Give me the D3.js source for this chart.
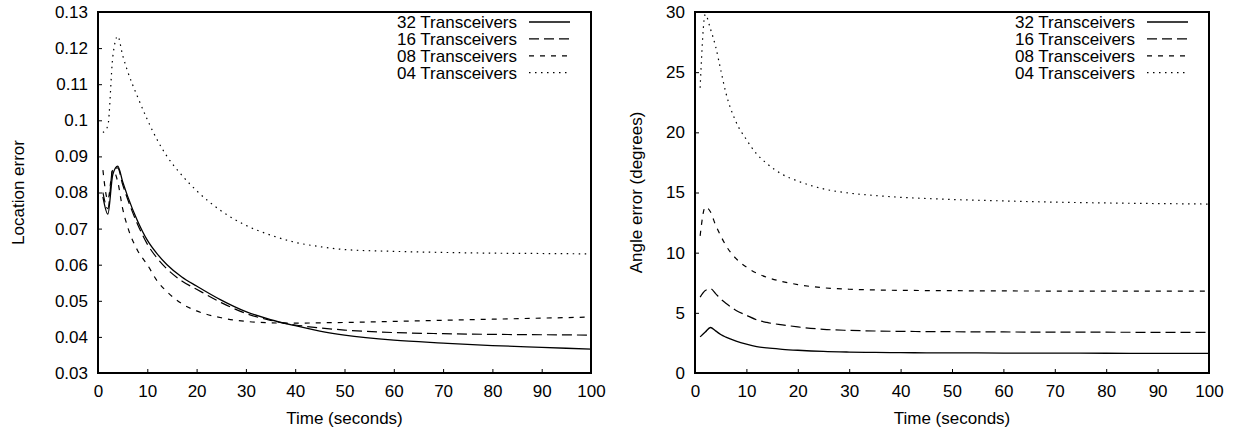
<!DOCTYPE html>
<html>
<head>
<meta charset="utf-8">
<script src="https://cdn.jsdelivr.net/npm/d3@7"></script>
<style>
    body { margin: 0; background: #fff; }
    text { font-family: "Liberation Sans", Arial, sans-serif; font-size: 17px; fill: #000; }
</style>
</head>
<body>
<svg width="1234" height="428"></svg>
<script>
// sample times (seconds)
var times = [1, 2, 3, 4, 5, 6, 8, 10, 12, 14, 17, 20, 25, 30, 35, 40, 45, 50, 60, 70, 80, 90, 100];
var seriesNames = ["32 Transceivers", "16 Transceivers", "08 Transceivers", "04 Transceivers"];

// location error
var loc32 = [0.0788, 0.0740, 0.0850, 0.0873, 0.0830, 0.0790, 0.0722, 0.0668, 0.0630, 0.0600, 0.0566, 0.0541, 0.0502, 0.0470, 0.0448, 0.0431, 0.0416, 0.0405, 0.0391, 0.0383, 0.0376, 0.0371, 0.0366];
var loc16 = [0.0800, 0.0755, 0.0865, 0.0868, 0.0822, 0.0782, 0.0713, 0.0657, 0.0618, 0.0588, 0.0555, 0.0532, 0.0495, 0.0465, 0.0446, 0.0433, 0.0425, 0.0419, 0.0412, 0.0409, 0.0407, 0.0406, 0.0405];
var loc08 = [0.0862, 0.0780, 0.0862, 0.0830, 0.0755, 0.0705, 0.0640, 0.0600, 0.0555, 0.0525, 0.0492, 0.0472, 0.0453, 0.0443, 0.0439, 0.0438, 0.0439, 0.0440, 0.0443, 0.0446, 0.0449, 0.0452, 0.0455];
var loc04 = [0.0966, 0.0985, 0.1176, 0.1233, 0.1180, 0.1136, 0.1066, 0.1002, 0.0946, 0.0900, 0.0848, 0.0805, 0.0749, 0.0709, 0.0682, 0.0662, 0.0650, 0.0642, 0.0637, 0.0634, 0.0632, 0.0631, 0.0630];

// angle error (degrees)
var ang32 = [3.0, 3.4, 3.78, 3.5, 3.2, 2.98, 2.65, 2.4, 2.2, 2.08, 1.97, 1.89, 1.79, 1.74, 1.71, 1.69, 1.68, 1.67, 1.66, 1.65, 1.64, 1.635, 1.63];
var ang16 = [6.3, 6.85, 7.0, 6.6, 6.15, 5.8, 5.2, 4.8, 4.42, 4.2, 4.0, 3.83, 3.63, 3.54, 3.49, 3.46, 3.44, 3.43, 3.41, 3.40, 3.39, 3.38, 3.37];
var ang08 = [11.4, 13.8, 13.4, 12.3, 11.4, 10.6, 9.5, 8.8, 8.3, 7.95, 7.6, 7.35, 7.08, 6.96, 6.9, 6.87, 6.85, 6.84, 6.82, 6.81, 6.80, 6.80, 6.80];
var ang04 = [23.7, 29.8, 28.6, 27.15, 25.2, 23.3, 20.85, 19.4, 18.2, 17.4, 16.5, 15.95, 15.3, 14.95, 14.75, 14.6, 14.5, 14.42, 14.3, 14.2, 14.13, 14.08, 14.04];

// ticks
var timeTicks = [0, 10, 20, 30, 40, 50, 60, 70, 80, 90, 100];
var locTicks = [0.03, 0.04, 0.05, 0.06, 0.07, 0.08, 0.09, 0.1, 0.11, 0.12, 0.13];
var angTicks = [0, 5, 10, 15, 20, 25, 30];

var dashes = [null, "10,5", "5,6", "1.5,4.5"];

var svg = d3.select("svg");
var plotTop = 12, plotBottom = 373;

function drawPanel(left, right, yTicks, yFmt, values, ylabel, ylabelX) {
    var x = d3.scaleLinear().domain([0, 100]).range([left, right]);
    var y = d3.scaleLinear().domain([yTicks[0], yTicks[yTicks.length - 1]]).range([plotBottom, plotTop]);

    var g = svg.append("g");

    // inward ticks, gnuplot-ish
    g.append("g")
        .attr("transform", "translate(0," + plotBottom + ")")
        .call(d3.axisBottom(x).tickValues(timeTicks).tickSizeInner(-4).tickSizeOuter(0).tickFormat(d3.format("d")))
        .call(function (a) {
            a.select(".domain").remove();
            a.selectAll("text").attr("y", 12).attr("dy", "0.71em");
        });
    g.append("g")
        .attr("transform", "translate(" + left + ",0)")
        .call(d3.axisLeft(y).tickValues(yTicks).tickSizeInner(-4).tickSizeOuter(0).tickFormat(yFmt))
        .call(function (a) {
            a.select(".domain").remove();
            a.selectAll("text").attr("x", -10);
        });

    var line = d3.line()
        .x(function (d) { return x(d.t); })
        .y(function (d) { return y(d.v); })
        .curve(d3.curveMonotoneX);

    values.forEach(function (vals, i) {
        var pts = times.map(function (t, j) { return {t: t, v: vals[j]}; });
        g.append("path")
            .attr("d", line(pts))
            .attr("fill", "none")
            .attr("stroke", "#000")
            .attr("stroke-width", i == 0 ? 1.3 : 1.2)
            .attr("stroke-dasharray", dashes[i]);
    });

    // frame
    g.append("rect")
        .attr("x", left).attr("y", plotTop)
        .attr("width", right - left).attr("height", plotBottom - plotTop)
        .attr("fill", "none").attr("stroke", "#000").attr("stroke-width", 2);

    // legend
    seriesNames.forEach(function (name, i) {
        var yy = 22 + i * 16.9;
        g.append("text")
            .attr("x", right - 74).attr("y", yy)
            .attr("dy", "0.35em")
            .attr("text-anchor", "end")
            .text(name);
        g.append("line")
            .attr("x1", right - 62).attr("x2", right - 21)
            .attr("y1", yy).attr("y2", yy)
            .attr("stroke", "#000")
            .attr("stroke-width", i == 0 ? 1.3 : 1.2)
            .attr("stroke-dasharray", dashes[i]);
    });

    g.append("text")
        .attr("x", (left + right) / 2).attr("y", 424)
        .attr("text-anchor", "middle")
        .text("Time (seconds)");

    g.append("text")
        .attr("transform", "translate(" + ylabelX + "," + ((plotTop + plotBottom) / 2) + ") rotate(-90)")
        .attr("text-anchor", "middle")
        .text(ylabel);
}

drawPanel(98, 591, locTicks, d3.format("~g"), [loc32, loc16, loc08, loc04], "Location error", 24);
drawPanel(695, 1209, angTicks, d3.format("d"), [ang32, ang16, ang08, ang04], "Angle error (degrees)", 642);
</script>
</body>
</html>
